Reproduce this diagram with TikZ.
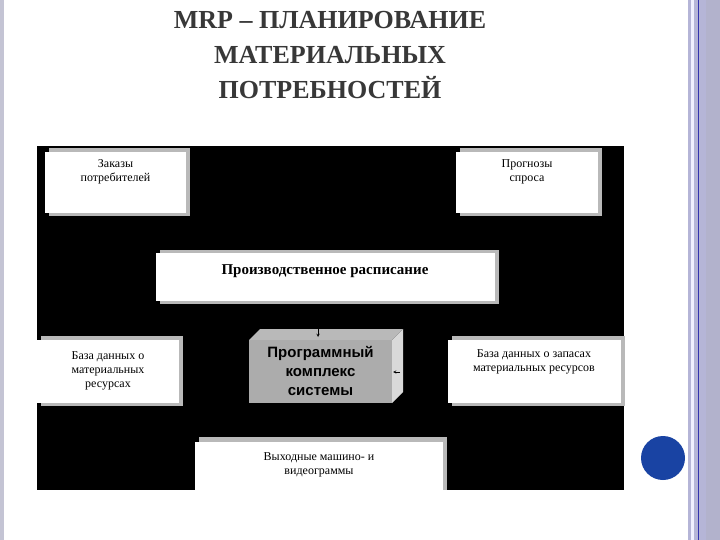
\documentclass[tikz,border=0pt]{standalone}
\usepackage{fontspec}
\setmainfont{Liberation Serif}
\newfontfamily\sansf{Liberation Sans}
\begin{document}
\begin{tikzpicture}[x=1pt,y=-1pt,
  wbox/.style={fill=white,draw=none,align=center,font=\fontsize{12}{14}\selectfont},
  shad/.style={fill=gray!55}]
\useasboundingbox (0,0) rectangle (720,540);
\fill[white] (0,0) rectangle (720,540);
% side strips
\fill[blue!15!gray!40] (0,0) rectangle (4,540);
\fill[blue!30!gray!45] (688,0) rectangle (720,540);
\fill[white!70!blue!20] (691,0) rectangle (694,540);
\draw[blue!60!black!80,line width=0.8pt] (698,0) -- (698,540);
\fill[blue!20!gray!50] (706,0) rectangle (720,540);
% title
\node[font=\fontsize{26}{35}\selectfont\bfseries,text=black!78,align=center] (title) at (330,55) {MRP – ПЛАНИРОВАНИЕ\\МАТЕРИАЛЬНЫХ\\ПОТРЕБНОСТЕЙ};
% black panel
\fill[black] (37,146) rectangle (624,490);
% shadows
\fill[shad] (49,148) rectangle (190,216);
\fill[shad] (460,148) rectangle (602,216);
\fill[shad] (160,250) rectangle (499,304);
\fill[shad] (41,336) rectangle (183,406);
\fill[shad] (452,336) rectangle (625,406);
\fill[shad] (199,437) rectangle (447,490);
% boxes
\fill[white] (45,152) rectangle (186,213); \node[wbox] (zak) at (115.5,172) {Заказы\\потребителей};
\fill[white] (456,152) rectangle (598,213); \node[wbox] (prog) at (527,172) {Прогнозы\\спроса};
\fill[white] (156,253) rectangle (495,301); \node[font=\fontsize{15}{18}\selectfont\bfseries] (pr) at (325,271) {Производственное расписание};
\fill[white] (37,340) rectangle (179,403); \node[wbox] (bl) at (108,371) {База данных о\\материальных\\ресурсах};
\fill[white] (448,340) rectangle (621,403); \node[wbox] (br) at (534,362) {База данных о запасах\\материальных ресурсов};
\fill[white] (195,442) rectangle (443,490); \node[wbox] (out) at (319,465) {Выходные машино- и\\видеограммы};
% program block 3D
\fill[gray!30] (392,340) -- (403,329) -- (403,392) -- (392,403) -- cycle;
\fill[gray!55] (249,340) -- (260,329) -- (403,329) -- (392,340) -- cycle;
\fill[gray!65] (249,340) rectangle (392,403);
\node[font=\sansf\fontsize{15}{19}\selectfont\bfseries,align=center] (pk) at (320.5,371) {Программный\\комплекс\\системы};
% small arrows
\coordinate (a1) at (318,326); \coordinate (a2) at (318,337);
\draw[-stealth,line width=0.5pt] (a1) -- (a2);
\coordinate (b1) at (400,372); \coordinate (b2) at (393,372);
\draw[-stealth,line width=0.5pt] (b1) -- (b2);
% blue dot
\fill[blue!70!cyan!60!black!90] (663,458) circle (22);
\end{tikzpicture}
\end{document}
